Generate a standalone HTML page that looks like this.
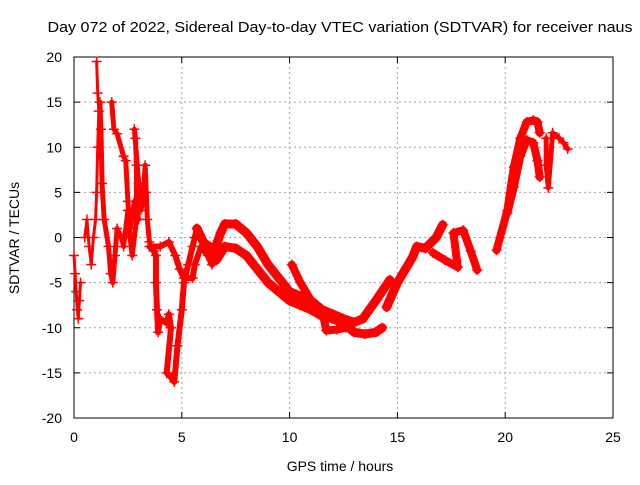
<!DOCTYPE html>
<html><head><meta charset="utf-8">
<style>
body{margin:0;background:#fff;}
svg text{font-family:"Liberation Sans",sans-serif;font-size:14px;fill:#000;}
</style></head>
<body>
<svg id="chart" width="640" height="480" xmlns="http://www.w3.org/2000/svg">
<text x="340" y="32" text-anchor="middle" style="font-size:15px" textLength="585" lengthAdjust="spacingAndGlyphs">Day 072 of 2022, Sidereal Day-to-day VTEC variation (SDTVAR) for receiver naus</text>
<g id="grid"></g>
<g id="axes"></g>
<g id="marks"></g>
<text x="340" y="471" text-anchor="middle">GPS time / hours</text>
<text transform="translate(19,238) rotate(-90)" text-anchor="middle">SDTVAR / TECUs</text>
</svg>
<script>
const xTicks=[0,5,10,15,20,25];
const yTicks=[-20,-15,-10,-5,0,5,10,15,20];
// each track: [hour, value] pairs
const trackEarly1=[[0,-2],[0.05,-4],[0.1,-6],[0.15,-8],[0.2,-9],[0.25,-7],[0.3,-5]];
const trackEarly2=[[0.5,0],[0.6,2],[0.7,-1],[0.8,-3],[0.9,0],[1.0,2],[1.05,5],[1.1,10],[1.15,14],[1.1,16],[1.05,19.5]];
const trackEarly3=[[1.2,15],[1.25,12],[1.3,6],[1.4,2],[1.6,-1],[1.7,-4],[1.8,-5],[1.9,-2],[2.0,1],[2.2,0],[2.3,-1],[2.5,3],[2.6,1],[2.8,4],[3.0,2]];
const trackEarly4=[[1.75,15],[1.85,12],[2.0,11.5],[2.3,9],[2.4,8.5],[2.5,4],[2.6,0],[2.7,-2],[2.9,2],[2.9,8],[2.85,11],[2.8,12],[3.0,6],[3.1,3],[3.2,4],[3.3,8],[3.35,5],[3.4,2],[3.5,-0.5]];
const trackDive=[[3.5,-1],[3.7,-1.5],[3.8,-2],[3.8,-5],[3.85,-8],[3.9,-10.5],[4.0,-9],[4.3,-9.5],[4.4,-8.5],[4.5,-10],[4.3,-15],[4.5,-15.5],[4.65,-16],[4.8,-12],[5.0,-8],[5.1,-5],[5.3,-3],[5.5,-1],[5.6,0],[5.7,1]];
const trackMid=[[3.6,-1],[4.0,-1],[4.4,-0.5],[4.7,-2],[4.9,-3.5],[5.1,-4.5],[5.5,-4.5],[5.6,-3],[5.9,-1],[6.2,-2],[6.4,-3]];
const trackUpper=[[5.7,1],[6.0,-0.5],[6.5,-1.5],[6.8,0.5],[7.0,1.5],[7.5,1.5],[8.0,0.5],[8.5,-1],[9.0,-3],[9.5,-4.5],[10,-6],[10.5,-6.5],[11,-7],[11.5,-8],[12,-8.5],[12.5,-9],[13.0,-9.4],[13.4,-9],[14,-7],[14.65,-4.7]];
const trackLower=[[6.3,-1],[6.6,-2.5],[7.0,-1],[7.5,-1.2],[8.0,-2],[8.5,-3.5],[9.0,-5],[9.5,-6],[10,-7],[10.5,-7.5],[11,-8],[11.5,-8.7],[12,-9],[12.5,-9.5],[13,-10.5],[13.5,-10.7],[14,-10.5],[14.3,-10]];
const trackSide=[[10.1,-3],[10.5,-5],[11,-7],[11.5,-8],[11.7,-10.3],[12.2,-10.2],[12.6,-10]];
const trackRise=[[14.5,-7.7],[15,-5],[15.7,-2.2],[15.9,-1],[16.3,-1.2],[16.8,0],[17.1,1.4]];
const trackHump=[[16.65,-1.7],[17.2,-2.5],[17.8,-3.3],[17.6,0.5],[18.05,0.8],[18.4,-1.5],[18.7,-3.6]];
const trackDawn1=[[19.6,-1.4],[20.1,3],[20.4,7.8],[20.7,11],[21.0,12.8],[21.3,13],[21.5,12.8],[21.6,11.6]];
const trackDawn2=[[20.1,2.7],[20.4,5.6],[20.7,9],[21.0,10.8],[21.3,10.5],[21.5,8.5],[21.6,6.7]];
const trackEnd=[[21.9,11],[21.9,8],[22.0,5.5],[22.2,11.6],[22.5,11],[22.7,10.5],[22.9,9.8]];
const tracks=[trackEarly1,trackEarly2,trackEarly3,trackEarly4,trackDive,trackMid,trackUpper,trackLower,trackSide,trackRise,trackHump,trackDawn1,trackDawn2,trackEnd];
const widths=[3,3,5,5,6,6,9,9,8,9,8,8,8,5];

const X0=74,X1=613,Y0=418,Y1=57;
const xs=h=>X0+(h-0)/25*(X1-X0);
const ys=v=>Y0-(v+20)/40*(Y0-Y1);
const NS="http://www.w3.org/2000/svg";
function mk(t,a,p){const e=document.createElementNS(NS,t);for(const k in a)e.setAttribute(k,a[k]);p.appendChild(e);return e;}
const grid=document.getElementById('grid'),axes=document.getElementById('axes'),marks=document.getElementById('marks');
xTicks.forEach(t=>{const x=xs(t);
 if(t>0&&t<25){const g=mk('line',{x1:x,x2:x,y1:Y1,y2:Y0,stroke:'#a0a0a0','stroke-dasharray':'2,3'},grid);
 
 }
 mk('line',{x1:x,x2:x,y1:Y0,y2:Y0-6,stroke:'#000'},axes);
 mk('line',{x1:x,x2:x,y1:Y1,y2:Y1+6,stroke:'#000'},axes);
 const l=mk('text',{x:x,y:Y0+24,'text-anchor':'middle'},axes);l.textContent=t;
 
 
});
yTicks.forEach(t=>{const y=ys(t);
 if(t>-20&&t<20){const g=mk('line',{x1:X0,x2:X1,y1:y,y2:y,stroke:'#a0a0a0','stroke-dasharray':'2,3'},grid);
 
 }
 mk('line',{x1:X0,x2:X0+6,y1:y,y2:y,stroke:'#000'},axes);
 mk('line',{x1:X1,x2:X1-6,y1:y,y2:y,stroke:'#000'},axes);
 const l=mk('text',{x:X0-12,y:y+5,'text-anchor':'end'},axes);l.textContent=t;
 
 
});
mk('rect',{x:X0,y:Y1,width:X1-X0,height:Y0-Y1,fill:'none',stroke:'#000'},axes);
tracks.forEach((tr,i)=>{
 const pl=mk('polyline',{points:tr.map(p=>xs(p[0])+','+ys(p[1])).join(' '),fill:'none',stroke:'#ff0000','stroke-width':widths[i],'stroke-linejoin':'round','stroke-linecap':'round'},marks);
 
 
 tr.forEach(p=>{const x=xs(p[0]),y=ys(p[1]);
  const m=mk('path',{d:`M${x-5},${y}H${x+5}M${x},${y-5}V${y+5}`,stroke:'#ff0000','stroke-width':1.5},marks);
  
  
 });
});
</script>
</body></html>
